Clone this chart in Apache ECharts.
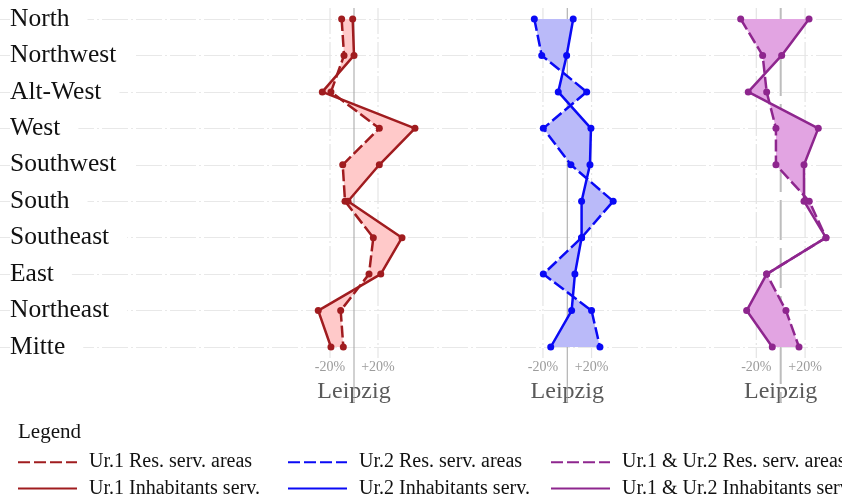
<!DOCTYPE html>
<html>
<head>
<meta charset="utf-8">
<script src="https://cdn.jsdelivr.net/npm/echarts@6/dist/echarts.min.js"></script>
<style>html,body{margin:0;padding:0;background:#fff;}#chart{width:842px;height:500px;}</style>
</head>
<body>
<div id="chart"></div>
<script>
// ---- data ----
const categories = ['North', 'Northwest', 'Alt-West', 'West', 'Southwest', 'South', 'Southeast', 'East', 'Northeast', 'Mitte'];
const ur1Res = [-10.3, -8.3, -19.2, 21.1, -9.4, -7.5, 16.1, 12.5, -11.1, -8.9];
const ur1Inh = [-1.1, 0, -26.4, 50.8, 21.1, -5.0, 40.0, 22.3, -29.8, -19.2];
const ur2Res = [-27.1, -21.0, 16.0, -19.7, 3.0, 37.8, 11.8, -19.7, 20.0, 26.9];
const ur2Inh = [4.9, -0.5, -7.4, 19.5, 18.7, 11.8, 11.8, 6.3, 3.6, -13.6];
const ur12Res = [-32.8, -14.8, -11.5, -3.9, -3.9, 23.4, 37.1, -11.5, 4.3, 15.0];
const ur12Inh = [23.2, 0.8, -26.6, 30.8, 19.1, 19.1, 37.1, -11.5, -27.9, -6.9];
const refTicks = [-20, 0, 20];
const tickLabels = { '-20': '-20%', '20': '+20%' };
const panelName = 'Leipzig';
const seriesNames = [
  'Ur.1 Res. serv. areas', 'Ur.1 Inhabitants serv.',
  'Ur.2 Res. serv. areas', 'Ur.2 Inhabitants serv.',
  'Ur.1 & Ur.2 Res. serv. areas', 'Ur.1 & Ur.2 Inhabitants serv.'
];

// ---- styling ----
const FONT = '"Liberation Serif", "Times New Roman", serif';
const panels = [
  { res: ur1Res, inh: ur1Inh, line: '#a01c1f', fill: '#ffc9c9', left: 294, width: 120, centerDash: null },
  { res: ur2Res, inh: ur2Inh, line: '#0a0af5', fill: '#babaf9', left: 506.5, width: 121.5, centerDash: null },
  { res: ur12Res, inh: ur12Inh, line: '#8e268e', fill: '#e2a4e2', left: 719.7, width: 122, centerDash: [40, 8] }
];
const DASH = [12, 4];
const GRIDDASH = [26, 3, 2, 3];

const grid = [{ left: 0, right: 0, top: 19, height: 328, containLabel: false, outerBoundsMode: 'none' }];
const xAxis = [{ gridIndex: 0, type: 'value', min: 0, max: 1, show: false }];
const yAxis = [{
  gridIndex: 0, type: 'category', data: categories, inverse: true, boundaryGap: false,
  axisLine: { show: false }, axisTick: { show: false },
  axisLabel: {
    inside: true, margin: 10, fontFamily: FONT, fontSize: 25.5, color: '#111',
    backgroundColor: '#fff', padding: [0, 18, 0, 0]
  },
  splitLine: { show: true, lineStyle: { color: '#e8e8e8', width: 1, type: GRIDDASH } }
}];
const series = [];

function fillRenderer(resArr, inhArr, color) {
  return function (params, api) {
    const pts = [];
    resArr.forEach(function (v, i) { pts.push(api.coord([v, i])); });
    for (let i = inhArr.length - 1; i >= 0; i--) pts.push(api.coord([inhArr[i], i]));
    return { type: 'polygon', shape: { points: pts }, style: { fill: color } };
  };
}
function refRenderer(centerDash) {
  return function (params, api) {
    const v = api.value(0);
    const top = api.coord([v, 0]);
    const bot = api.coord([v, categories.length - 1]);
    const isCenter = v === 0;
    return {
      type: 'line',
      shape: { x1: top[0], y1: top[1] - 11, x2: top[0], y2: bot[1] + (isCenter ? 56 : 11) },
      style: isCenter
        ? { stroke: centerDash ? '#bdbdbd' : '#a3a3a3', lineWidth: centerDash ? 2 : 1, lineDash: centerDash || null }
        : { stroke: '#e4e4e4', lineWidth: 1.2, lineDash: GRIDDASH }
    };
  };
}

panels.forEach(function (p, k) {
  const gi = k + 1;
  grid.push({ left: p.left, width: p.width, top: 19, height: 328, containLabel: false, outerBoundsMode: 'none' });
  xAxis.push({
    gridIndex: gi, type: 'value', min: -50, max: 50, interval: 10, position: 'bottom',
    axisLine: { show: false }, axisTick: { show: false }, splitLine: { show: false },
    axisLabel: {
      margin: 13, fontFamily: FONT, fontSize: 14, color: '#9c9c9c',
      formatter: function (v) { return tickLabels[String(v)] || ''; }
    },
    name: panelName, nameLocation: 'middle', nameGap: 33,
    nameTextStyle: { fontFamily: FONT, fontSize: 24, color: '#5a5a5a' }
  });
  yAxis.push({ gridIndex: gi, type: 'category', data: categories, inverse: true, boundaryGap: false, show: false });
  series.push({
    type: 'custom', xAxisIndex: gi, yAxisIndex: gi, z: 1, silent: true,
    data: refTicks.map(function (t) { return [t, 0]; }), encode: { x: 0, y: 1 },
    renderItem: refRenderer(p.centerDash)
  });
  series.push({
    type: 'custom', xAxisIndex: gi, yAxisIndex: gi, z: 2, silent: true,
    data: [[0, 0]], encode: { x: 0, y: 1 },
    renderItem: fillRenderer(p.res, p.inh, p.fill)
  });
  [[p.res, true, seriesNames[2 * k]], [p.inh, false, seriesNames[2 * k + 1]]].forEach(function (s) {
    series.push({
      type: 'line', name: s[2], xAxisIndex: gi, yAxisIndex: gi, z: 3, clip: false,
      data: s[0].map(function (v, i) { return [v, categories[i]]; }),
      symbol: 'circle', symbolSize: 7, showSymbol: true,
      itemStyle: { color: p.line },
      lineStyle: { color: p.line, width: 2.5, type: s[1] ? DASH : 'solid' }
    });
  });
});

const legendCols = [12, 282, 545];
const legendRows = [447.2, 473.5];
const legend = [];
seriesNames.forEach(function (name, idx) {
  legend.push({
    left: legendCols[Math.floor(idx / 2)], top: legendRows[idx % 2],
    data: [name],
    itemWidth: 59, itemHeight: 14,
    itemStyle: { opacity: 0 },
    textStyle: { fontFamily: FONT, fontSize: 20, lineHeight: 20, color: '#111', padding: [0, 0, 0, 7] },
    selectedMode: false
  });
});

const chart = echarts.init(document.getElementById('chart'), null, { renderer: 'canvas' });
chart.setOption({
  animation: false,
  backgroundColor: '#fff',
  title: { text: 'Legend', left: 13, top: 417, textStyle: { fontFamily: FONT, fontSize: 21, fontWeight: 'normal', color: '#111' } },
  legend: legend,
  grid: grid,
  xAxis: xAxis,
  yAxis: yAxis,
  series: series
});
</script>
</body>
</html>
